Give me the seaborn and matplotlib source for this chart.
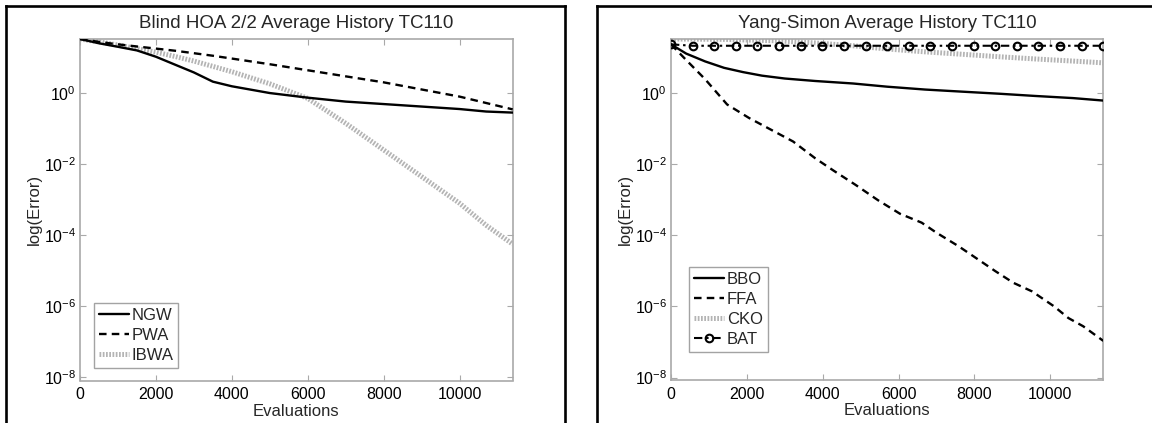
import numpy as np
import pandas as pd
import matplotlib
matplotlib.use("Agg")
import matplotlib.pyplot as plt
from matplotlib.lines import Line2D
from matplotlib.ticker import FixedLocator, FixedFormatter, NullLocator
import seaborn as sns

# ---- data: average error histories (error values vs. function evaluations) ----
evals_hoa = [0, 500, 1000, 1500, 2000, 2500, 3000, 3500, 4000, 5000, 6000,
             7000, 8000, 9000, 10000, 10700, 11400]
ngw = [33.1, 25.1, 20.0, 15.8, 10.5, 6.31, 3.80, 2.09, 1.55, 1.00, 0.741,
       0.575, 0.490, 0.417, 0.355, 0.302, 0.282]
pwa = [33.1, 27.5, 23.4, 20.4, 17.8, 15.5, 13.2, 11.2, 9.33, 6.46, 4.37,
       2.95, 2.00, 1.26, 0.794, 0.525, 0.347]
ibwa = [33.1, 27.5, 22.4, 17.8, 14.1, 10.7, 7.94, 5.62, 3.98, 1.82, 0.708,
        0.141, 0.0251, 4.47e-3, 7.94e-4, 1.91e-4, 5.62e-5]

evals_bbo = [0, 400, 900, 1400, 1900, 2400, 3000, 3800, 4800, 5700, 6700,
             7700, 8700, 9600, 10600, 11400]
bbo = [22.9, 12.6, 7.59, 5.01, 3.80, 3.02, 2.51, 2.14, 1.82, 1.48, 1.23,
       1.07, 0.933, 0.813, 0.708, 0.603]

evals_ffa = [0, 400, 900, 1480, 2060, 2640, 3220, 3800, 4290, 4870, 5460,
             6040, 6610, 7000, 7580, 7970, 8550, 9030, 9520, 10100, 10480,
             10870, 11400]
ffa = [22.9, 8.32, 2.40, 0.468, 0.195, 0.0912, 0.0427, 0.0145, 6.46e-3,
       2.57e-3, 9.55e-4, 3.98e-4, 2.24e-4, 1.17e-4, 4.90e-5, 2.57e-5,
       9.77e-6, 4.57e-6, 2.63e-6, 1.00e-6, 4.68e-7, 2.75e-7, 1.07e-7]

evals_cko = [0, 1400, 2800, 3800, 4800, 5700, 6700, 7700, 8700, 9600,
             10600, 11400]
cko = [32.4, 31.6, 28.8, 25.1, 20.9, 17.0, 14.1, 12.0, 10.2, 8.91, 7.76, 6.92]

evals_bat = [0, 570, 1140, 1710, 2280, 2850, 3420, 3990, 4560, 5130, 5700,
             6270, 6840, 7410, 7980, 8550, 9120, 9690, 10260, 10830, 11400]
bat = [22.9] + [20.9] * 20

x_ticks = [0, 2000, 4000, 6000, 8000, 10000]
x_tick_labels = ["0", "2000", "4000", "6000", "8000", "10000"]
y_ticks = [1e-8, 1e-6, 1e-4, 1e-2, 1e0]
y_tick_labels = [r"$10^{-8}$", r"$10^{-6}$", r"$10^{-4}$", r"$10^{-2}$", r"$10^{0}$"]

titles = ["Blind HOA 2/2 Average History TC110", "Yang-Simon Average History TC110"]
x_label = "Evaluations"
y_label = "log(Error)"

# ---- style ----
sns.set_style("white")
plt.rcParams["font.family"] = ["Liberation Sans", "DejaVu Sans"]
plt.rcParams["mathtext.fontset"] = "custom"
plt.rcParams["mathtext.rm"] = "Liberation Sans"
plt.rcParams["mathtext.it"] = "Liberation Sans"
plt.rcParams["mathtext.bf"] = "Liberation Sans"

AX_GRAY = "#a9a9a9"
DASH = (0, (3.2, 2.2))
DOTTED = (0, (0.35, 0.3))
DASHDOT = (0, (4.0, 1.8, 1.2, 1.8))

fig = plt.figure(figsize=(11.52, 4.23), dpi=100)
ax_l = fig.add_axes([80 / 1152, 1 - 380.5 / 423, 432.7 / 1152, 341.5 / 423])
ax_r = fig.add_axes([671 / 1152, 1 - 380.0 / 423, 432.3 / 1152, 341.0 / 423])

# Left: Blind HOA
sns.lineplot(x=evals_hoa, y=ibwa, ax=ax_l, color="#b4b4b4", lw=3.6,
             linestyle=DOTTED, label="IBWA", sort=False, zorder=2)
sns.lineplot(x=evals_hoa, y=pwa, ax=ax_l, color="black", lw=1.7,
             linestyle=DASH, label="PWA", sort=False, zorder=3)
sns.lineplot(x=evals_hoa, y=ngw, ax=ax_l, color="black", lw=1.7,
             linestyle="-", label="NGW", sort=False, zorder=4)

# Right: Yang-Simon
sns.lineplot(x=evals_cko, y=cko, ax=ax_r, color="#b4b4b4", lw=3.6,
             linestyle=DOTTED, label="CKO", sort=False, zorder=2)
sns.lineplot(x=evals_bbo, y=bbo, ax=ax_r, color="black", lw=1.7,
             linestyle="-", label="BBO", sort=False, zorder=4)
sns.lineplot(x=evals_ffa, y=ffa, ax=ax_r, color="black", lw=1.7,
             linestyle=DASH, label="FFA", sort=False, zorder=4)
sns.lineplot(x=evals_bat, y=bat, ax=ax_r, color="black", lw=1.5,
             linestyle=DASHDOT, marker="o", markersize=5.5, mfc="none",
             mec="black", mew=1.5, label="BAT", sort=False, zorder=5)

ylims = [(10 ** -8.085, 10 ** 1.52), (10 ** -8.07, 10 ** 1.51)]
legend_orders = [["NGW", "PWA", "IBWA"], ["BBO", "FFA", "CKO", "BAT"]]
legend_anchor = [(0.032, 0.037), (0.042, 0.082)]

for ax, title, ylim, order, anchor in zip([ax_l, ax_r], titles, ylims,
                                          legend_orders, legend_anchor):
    ax.set_yscale("log")
    ax.set_xlim(0, 11400)
    ax.set_ylim(*ylim)
    ax.xaxis.set_major_locator(FixedLocator(x_ticks))
    ax.xaxis.set_major_formatter(FixedFormatter(x_tick_labels))
    ax.yaxis.set_major_locator(FixedLocator(y_ticks))
    ax.yaxis.set_major_formatter(FixedFormatter(y_tick_labels))
    ax.yaxis.set_minor_locator(NullLocator())
    ax.tick_params(axis="both", which="major", direction="in", length=4,
                   width=0.8, color=AX_GRAY, labelsize=11.5, labelcolor="black",
                   bottom=True, left=True, top=True, right=True)
    ax.tick_params(axis="x", pad=5)
    ax.tick_params(axis="y", pad=3)
    for sp in ax.spines.values():
        sp.set_color(AX_GRAY)
        sp.set_linewidth(1.2)
    ax.set_title(title, fontsize=13.5, pad=8)
    ax.set_xlabel(x_label, fontsize=12, labelpad=1)
    ax.set_ylabel(y_label, fontsize=12, labelpad=1)

    handles, labels = ax.get_legend_handles_labels()
    hmap = dict(zip(labels, handles))
    leg = ax.legend([hmap[k] for k in order], order, loc="lower left",
                    bbox_to_anchor=anchor, borderaxespad=0, fontsize=12,
                    frameon=True, fancybox=False, handlelength=1.8,
                    handletextpad=0.15, labelspacing=0.3, borderpad=0.3)
    leg.get_frame().set_edgecolor("#8c8c8c")
    leg.get_frame().set_linewidth(1.0)

# Panel frames
W, H = 1152, 423
def fline(x0, y0, x1, y1):
    fig.add_artist(Line2D([x0 / W, x1 / W], [1 - y0 / H, 1 - y1 / H],
                          color="black", lw=1.9, solid_capstyle="projecting"))

fline(5.5, 6.5, 5.5, 423)
fline(5.5, 6.5, 565, 6.5)
fline(565, 6.5, 565, 423)
fline(597, 6.5, 597, 423)
fline(597, 6.5, 1152, 6.5)

fig.savefig("out.png", dpi=100)
